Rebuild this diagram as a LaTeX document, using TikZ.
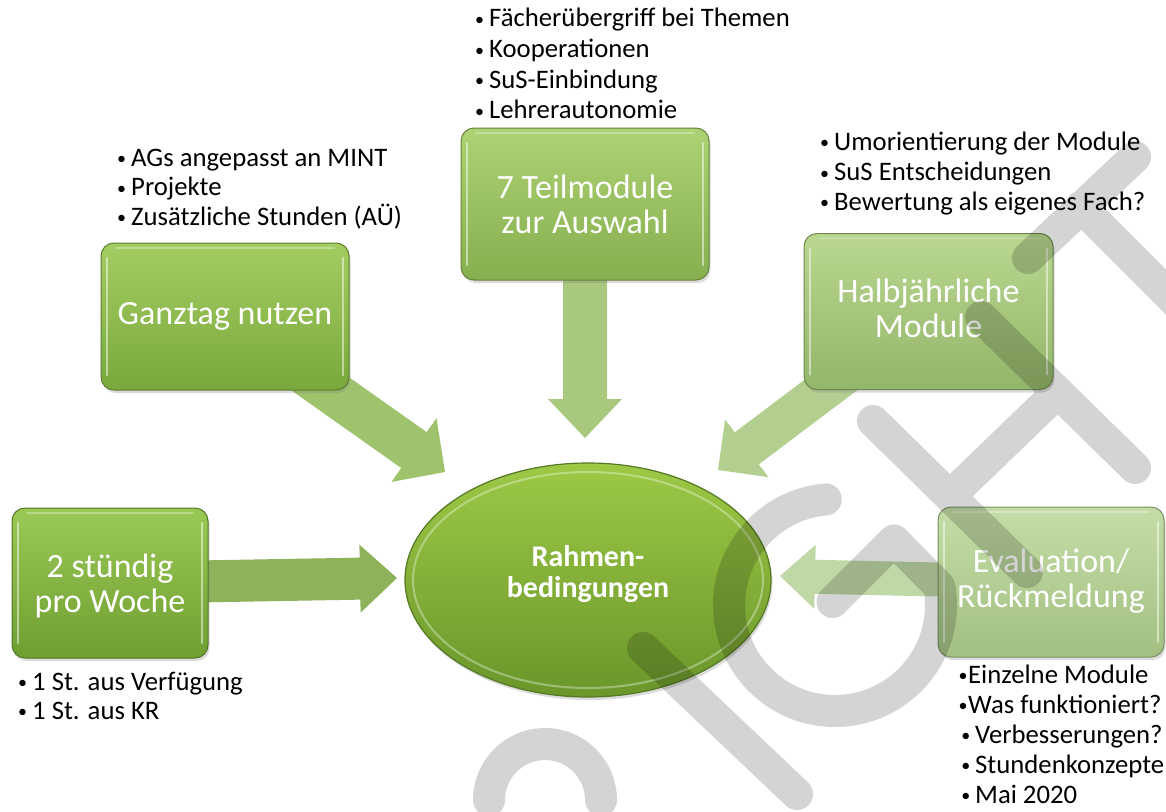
\documentclass[tikz,border=0pt]{standalone}
\usepackage{fontspec}
\setmainfont{Carlito}
\usetikzlibrary{calc,shapes.geometric,shadows}

% box fills (top / bottom of the vertical gradient)
\definecolor{boxAt}{HTML}{9BC957}\definecolor{boxAb}{HTML}{6F9F31}
\definecolor{boxBt}{HTML}{A3CD62}\definecolor{boxBb}{HTML}{7AA83C}
\definecolor{boxCt}{HTML}{ADD274}\definecolor{boxCb}{HTML}{86AF4E}
\definecolor{boxDt}{HTML}{B9D790}\definecolor{boxDb}{HTML}{93B66A}
\definecolor{boxEt}{HTML}{C4DDA7}\definecolor{boxEb}{HTML}{A2C081}
\definecolor{hubT}{HTML}{9DC946}\definecolor{hubB}{HTML}{6A962B}
% block arrow fills
\definecolor{arrA}{HTML}{8DB25A}
\definecolor{arrB}{HTML}{9FC36C}
\definecolor{arrC}{HTML}{A8C87E}
\definecolor{arrD}{HTML}{B3CF8F}
\definecolor{arrE}{HTML}{BFD8A5}

\pgfdeclarelayer{backdrop}
\pgfdeclarelayer{arrows}
\pgfdeclarelayer{wmark}
\pgfsetlayers{backdrop,arrows,main,wmark}

% list bullets hanging left of the text (normal and tight spacing)
\newcommand{\bulgap}[1]{\llap{\raisebox{1.5pt}{\fontsize{18pt}{18pt}\selectfont •}\hspace{#1}}}
\newcommand{\bul}{\bulgap{5pt}}
% block arrow: from, tip, half shaft width, half head width, head length, colour, helper coordinate
\newcommand{\blockarrow}[7]{%
  \coordinate (#7) at ($(#2)!#5!(#1)$);
  \fill[#6] ($(#1)!#3!90:(#2)$) -- ($(#7)!#3!90:(#2)$) -- ($(#7)!#4!90:(#2)$)
    -- (#2) -- ($(#7)!#4!-90:(#2)$) -- ($(#7)!#3!-90:(#2)$) -- ($(#1)!#3!-90:(#2)$) -- cycle;
}

\tikzset{
  gbox/.style 2 args={rectangle, rounded corners=13pt, draw=#2!75!black, line width=1pt,
    top color=#1, bottom color=#2, text=white, inner sep=0pt,
    font=\fontsize{34pt}{35pt}\selectfont,
    drop shadow={shadow xshift=1.5pt, shadow yshift=-3pt, opacity=0.28},
    path picture={
      \draw[white, opacity=0.5, line width=2.2pt, line cap=round]
        ([xshift=6pt,yshift=-15pt]path picture bounding box.north west) --
        ([xshift=6pt,yshift=15pt]path picture bounding box.south west)
        ([xshift=-6pt,yshift=-15pt]path picture bounding box.north east) --
        ([xshift=-6pt,yshift=15pt]path picture bounding box.south east);
      \draw[white, opacity=0.3, line width=1.5pt, line cap=round]
        ([xshift=15pt,yshift=-5pt]path picture bounding box.north west) --
        ([xshift=-15pt,yshift=-5pt]path picture bounding box.north east);
    }},
  hub/.style={ellipse, minimum width=366pt, minimum height=234pt, inner sep=0pt,
    top color=hubT, bottom color=hubB, draw=hubB!80!black, line width=1.2pt,
    text=white, font=\bfseries\fontsize{30pt}{31pt}\selectfont,
    drop shadow={shadow xshift=1.5pt, shadow yshift=-3pt, opacity=0.28},
    path picture={
      \draw[white, opacity=0.35, line width=2pt]
        (path picture bounding box.center) ellipse[x radius=175pt, y radius=108pt];
    }},
  bl/.style={anchor=base west, inner sep=0pt, text=black,
    font=\fontsize{26.7pt}{30pt}\selectfont},
  wm/.style={draw=black, draw opacity=0.17, line width=32pt, line cap=round, line join=round}
}

\begin{document}
\begin{tikzpicture}[x=1pt, y=-1pt]
\useasboundingbox (0,0) rectangle (1166,811);
\begin{pgfonlayer}{backdrop}
  \fill[white] (0,0) rectangle (1166,811);
\end{pgfonlayer}

% central hub
\node[hub, text height=0pt, text depth=28pt] (hub) at (588,580)
  {\begin{tabular}[t]{@{}c@{}}Rahmen-\\bedingungen\end{tabular}};

% surrounding boxes
\node[gbox={boxAt}{boxAb}, minimum width=196pt, minimum height=150pt,
  text height=0pt, text depth=12pt] (b1) at (110,583)
  {\begin{tabular}[t]{@{}c@{}}2 stündig\\pro Woche\end{tabular}};
\node[gbox={boxBt}{boxBb}, minimum width=248pt, minimum height=147pt] (b2) at (225,316.5)
  {Ganztag nutzen};
\node[gbox={boxCt}{boxCb}, minimum width=248pt, minimum height=152pt,
  text height=0pt, text depth=12pt] (b3) at (585,204)
  {\begin{tabular}[t]{@{}c@{}}7 Teilmodule\\zur Auswahl\end{tabular}};
\node[gbox={boxDt}{boxDb}, minimum width=249pt, minimum height=156pt,
  text height=0pt, text depth=19pt] (b4) at (928.5,311.5)
  {\begin{tabular}[t]{@{}c@{}}Halbjährliche\\Module\end{tabular}};
\node[gbox={boxEt}{boxEb}, minimum width=226pt, minimum height=150pt,
  text height=0pt, text depth=19pt] (b5) at (1051,582)
  {\begin{tabular}[t]{@{}c@{}}Evaluation/\\Rückmeldung\end{tabular}};

% arrow tips
\coordinate (tipA) at (397,578);
\coordinate (tipB) at (445,472);
\coordinate (tipC) at (585,438);
\coordinate (tipD) at (718,470);
\coordinate (tipE) at (780,576);

\begin{pgfonlayer}{arrows}
  \blockarrow{b1}{tipA}{21pt}{34pt}{37pt}{arrA}{baseA}
  \blockarrow{b2}{tipB}{22pt}{39pt}{38pt}{arrB}{baseB}
  \blockarrow{b3}{tipC}{22pt}{37pt}{39pt}{arrC}{baseC}
  \blockarrow{b4}{tipD}{20pt}{36pt}{36pt}{arrD}{baseD}
  \blockarrow{b5}{tipE}{17pt}{32pt}{35pt}{arrE}{baseE}
\end{pgfonlayer}

% bullet lists
\node[bl] (c1) at (489,27)    {\bul Fächerübergriff bei Themen};
\node[bl] (c2) at (489,57.5)  {\bul Kooperationen};
\node[bl] (c3) at (489,88)    {\bul SuS-Einbindung};
\node[bl] (c4) at (489,118.5) {\bul Lehrerautonomie};

\node[bl] (g1) at (131,166)   {\bul AGs angepasst an MINT};
\node[bl] (g2) at (131,195.5) {\bul Projekte};
\node[bl] (g3) at (131,225)   {\bul Zusätzliche Stunden (AÜ)};

\node[bl] (h1) at (834,150)   {\bul Umorientierung der Module};
\node[bl] (h2) at (834,180.5) {\bul SuS Entscheidungen};
\node[bl] (h3) at (834,210)   {\bul Bewertung als eigenes Fach?};

\node[bl] (s1) at (32,690)    {\bul 1 St. aus Verfügung};
\node[bl] (s2) at (32,719)    {\bul 1 St. aus KR};

\node[bl] (e1) at (968,683)   {\bulgap{0.7pt}Einzelne Module};
\node[bl] (e2) at (968,713)   {\bulgap{0.7pt}Was funktioniert?};
\node[bl] (e3) at (975,743)   {\bul Verbesserungen?};
\node[bl] (e4) at (975,773)   {\bul Stundenkonzepte};
\node[bl] (e5) at (975,803)   {\bul Mai 2020};

% translucent lettering laid over the whole sheet
\begin{pgfonlayer}{wmark}
  \clip (0,0) rectangle (1166,811);
  \coordinate (gc) at (835,605);
  \coordinate (rc) at (545,800);
  \draw[wm]
    (643,648) -- (797,794)
    (873,421) -- (1027,572)
    (981,317) -- (1135,468)
    (950,496) -- (1058,392)
    (1028,258) -- (1135,157)
    (1081,207) -- (1231,357)
    ([shift={(95:106pt)}]gc) arc[start angle=95, end angle=370, radius=106pt]
      -- (894,540.5) -- (832.5,602)
    ([shift={(0:56pt)}]rc) arc[start angle=0, end angle=180, radius=56pt];
\end{pgfonlayer}
\end{tikzpicture}
\end{document}
